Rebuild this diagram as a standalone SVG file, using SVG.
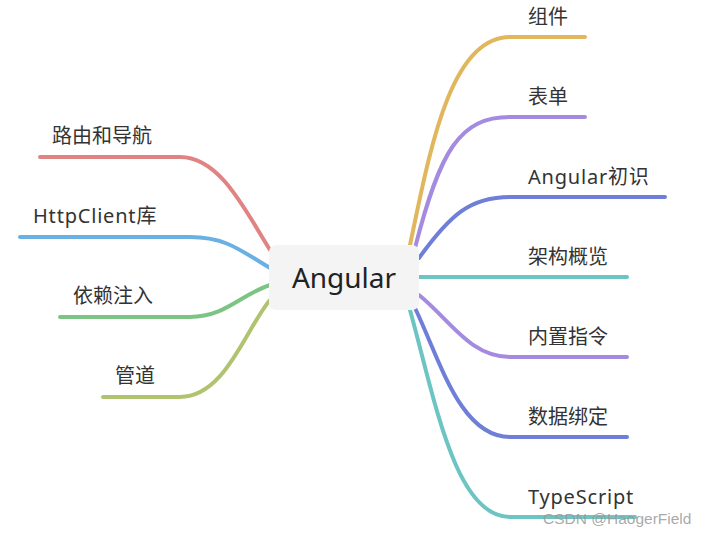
<svg xmlns="http://www.w3.org/2000/svg" width="707" height="537" viewBox="0 0 707 537">
<style>
.t{font-family:"Noto Sans","Noto Sans CJK SC",sans-serif;font-size:20px;fill:#333}
.l{letter-spacing:0.8px}
.c{fill:none;stroke-width:4;stroke-linecap:round}
</style>
<rect width="707" height="537" fill="#fff"/>
<g id="connectors">
<path class="c" stroke="#e0b75c" d="M410,245 C430,150 450,37 510,37 L585,37"/>
<path class="c" stroke="#a58be0" d="M415,248 C440,150 460,117 510,117 L585,117"/>
<path class="c" stroke="#6f7fd8" d="M419,258 C450,215 470,197 510,197 L665,197"/>
<path class="c" stroke="#6cc4c3" d="M419,277 L627,277"/>
<path class="c" stroke="#a58be0" d="M419,295 C450,320 470,357 510,357 L627,357"/>
<path class="c" stroke="#6f7fd8" d="M415,308 C440,360 460,437 510,437 L627,437"/>
<path class="c" stroke="#6cc4c3" d="M410,310 C435,400 455,517 510,517 L635,517"/>
<path class="c" stroke="#e08383" d="M270,250 C245,210 220,157 180,157 L40,157"/>
<path class="c" stroke="#6ab0e3" d="M270,268 C240,250 225,237 190,237 L20,237"/>
<path class="c" stroke="#7bc483" d="M270,285 C240,295 225,317 190,317 L60,317"/>
<path class="c" stroke="#b0c46f" d="M270,300 C245,330 225,397 180,397 L103,397"/>
</g>
<g id="root">
<rect x="269" y="245" width="150" height="65" rx="7" fill="#f4f4f4"/>
<text x="344" y="288" text-anchor="middle" style="font-family:'Noto Sans','Noto Sans CJK SC',sans-serif;font-size:28px;fill:#222">Angular</text>
</g>
<g id="n1"><text class="t" x="528" y="24">组件</text></g>
<g id="n2"><text class="t" x="528" y="104">表单</text></g>
<g id="n3"><text class="t l" x="528" y="184">Angular初识</text></g>
<g id="n4"><text class="t" x="528" y="264">架构概览</text></g>
<g id="n5"><text class="t" x="528" y="344">内置指令</text></g>
<g id="n6"><text class="t" x="528" y="424">数据绑定</text></g>
<g id="n7"><text class="t l" x="528" y="504">TypeScript</text></g>
<g id="n8"><text class="t" x="52" y="143">路由和导航</text></g>
<g id="n9"><text class="t l" x="33" y="223">HttpClient库</text></g>
<g id="n10"><text class="t" x="73" y="303">依赖注入</text></g>
<g id="n11"><text class="t" x="115" y="383">管道</text></g>
<text x="543" y="524" style="font-family:'Liberation Sans',Arial,sans-serif;font-size:15.5px;fill:#999;fill-opacity:0.85">CSDN @HaogerField</text>
</svg>
